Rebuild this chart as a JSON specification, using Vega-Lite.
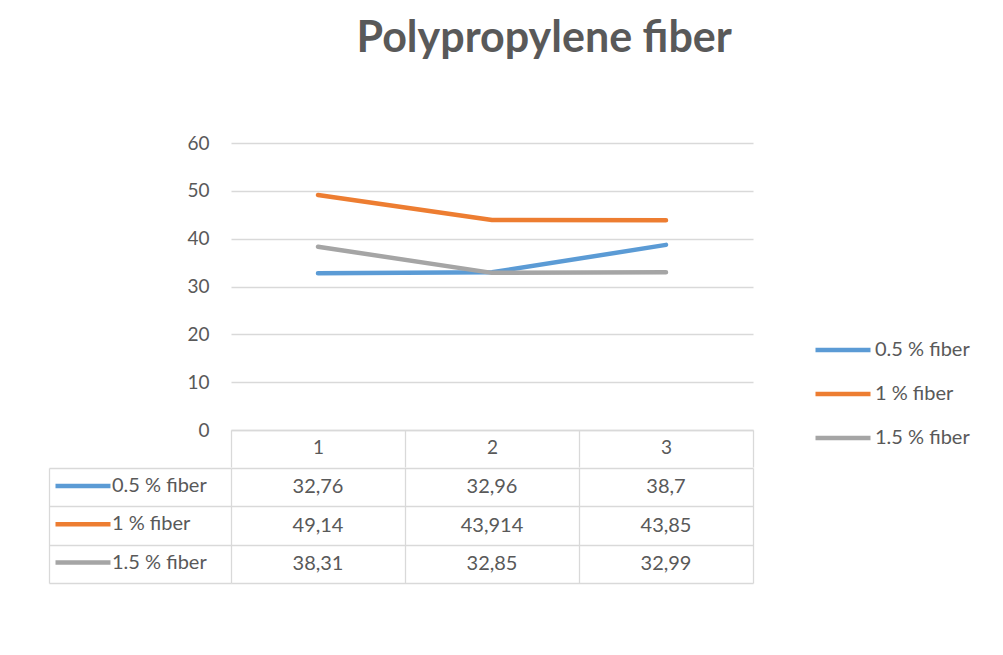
{
  "$schema": "https://vega.github.io/schema/vega-lite/v6.json",
  "padding": {"left": 48, "top": 18, "right": 5, "bottom": 5},
  "title": {"text": "Polypropylene fiber", "font": "Lato", "fontSize": 43, "fontWeight": "bold", "color": "#595959", "anchor": "middle", "offset": 73, "dx": 35},
  "datasets": {
    "fiber": [
      {"series": "0.5 % fiber", "x": "1", "value": 32.76},
      {"series": "0.5 % fiber", "x": "2", "value": 32.96},
      {"series": "0.5 % fiber", "x": "3", "value": 38.7},
      {"series": "1 % fiber", "x": "1", "value": 49.14},
      {"series": "1 % fiber", "x": "2", "value": 43.914},
      {"series": "1 % fiber", "x": "3", "value": 43.85},
      {"series": "1.5 % fiber", "x": "1", "value": 38.31},
      {"series": "1.5 % fiber", "x": "2", "value": 32.85},
      {"series": "1.5 % fiber", "x": "3", "value": 32.99}
    ]
  },
  "spacing": -3,
  "resolve": {"scale": {"color": "independent"}, "legend": {"color": "independent"}},
  "vconcat": [
    {
      "width": 522,
      "height": 287,
      "data": {"name": "fiber"},
      "mark": {"type": "line", "strokeWidth": 4.5, "strokeCap": "round", "strokeJoin": "round"},
      "encoding": {
        "x": {
          "field": "x", "type": "ordinal", "bandPosition": 0.5,
          "scale": {"type": "band", "domain": ["1", "2", "3"], "paddingInner": 0, "paddingOuter": 0},
          "axis": {"title": null, "labelAngle": 0, "labelFontSize": 19, "labelColor": "#595959", "labelFont": "Lato",
                   "tickBand": "extent", "tickSize": 37, "tickColor": "#D9D9D9", "tickWidth": 1.3,
                   "domainColor": "#D9D9D9", "domainWidth": 1.3, "labelPadding": -29, "grid": false}
        },
        "y": {
          "field": "value", "type": "quantitative",
          "scale": {"domain": [0, 60], "nice": false},
          "axis": {"title": null, "values": [0, 10, 20, 30, 40, 50, 60], "grid": true, "gridColor": "#D9D9D9", "gridWidth": 1.3,
                   "domain": false, "ticks": false, "labelFontSize": 19, "labelColor": "#595959", "labelFont": "Lato", "labelPadding": 22}
        },
        "color": {
          "field": "series", "type": "nominal",
          "scale": {"domain": ["0.5 % fiber", "1 % fiber", "1.5 % fiber"], "range": ["#5B9BD5", "#ED7D31", "#A5A5A5"]},
          "legend": {"title": null, "orient": "none", "legendX": 582, "legendY": 192, "padding": 0,
                     "symbolType": "stroke", "symbolSize": 3025, "symbolStrokeWidth": 4.5, "clipHeight": 30,
                     "rowPadding": 14, "labelOffset": 2, "labelFontSize": 20, "labelColor": "#595959", "labelFont": "Lato"}
        }
      }
    },
    {
      "width": 522,
      "height": 115,
      "data": {"name": "fiber"},
      "encoding": {
        "x": {
          "field": "x", "type": "ordinal", "bandPosition": 0.5,
          "scale": {"type": "band", "domain": ["1", "2", "3"], "paddingInner": 0, "paddingOuter": 0},
          "axis": {"title": null, "labels": false, "ticks": false, "domain": false, "grid": true, "tickBand": "extent",
                   "gridColor": "#D9D9D9", "gridWidth": 1.3}
        },
        "y": {
          "field": "series", "type": "nominal", "bandPosition": 0.5,
          "scale": {"type": "band", "domain": ["0.5 % fiber", "1 % fiber", "1.5 % fiber"], "paddingInner": 0, "paddingOuter": 0},
          "axis": {"title": null, "labels": false, "offset": 182, "tickSize": -182, "tickBand": "extent",
                   "tickColor": "#D9D9D9", "tickWidth": 1.3, "domainColor": "#D9D9D9", "domainWidth": 1.3,
                   "grid": true, "gridColor": "#D9D9D9", "gridWidth": 1.3}
        }
      },
      "layer": [
        {
          "mark": {"type": "text", "fontSize": 20, "font": "Lato", "color": "#595959", "baseline": "middle", "align": "center"},
          "encoding": {"text": {"field": "value", "type": "quantitative", "format": ".5~r"}}
        },
        {
          "transform": [{"filter": "false"}],
          "mark": {"type": "line", "strokeWidth": 4.5},
          "encoding": {
            "color": {
              "field": "series", "type": "nominal",
              "scale": {"domain": ["0.5 % fiber", "1 % fiber", "1.5 % fiber"], "range": ["#5B9BD5", "#ED7D31", "#A5A5A5"]},
              "legend": {"title": null, "orient": "none", "legendX": -178, "legendY": 3, "padding": 0,
                         "symbolType": "stroke", "symbolSize": 3025, "symbolStrokeWidth": 4.5, "clipHeight": 30,
                         "rowPadding": 8.3, "labelOffset": -1, "labelFontSize": 20, "labelColor": "#595959", "labelFont": "Lato"}
            }
          }
        }
      ]
    }
  ],
  "config": {
    "view": {"stroke": null},
    "font": "Lato",
    "locale": {"number": {"decimal": ",", "thousands": ".", "grouping": [3], "currency": ["", " €"]}}
  }
}
